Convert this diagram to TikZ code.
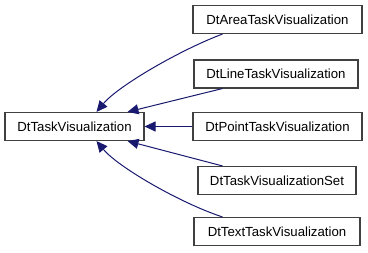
\documentclass[tikz,border=0pt]{standalone}
\usepackage{fontspec}
\setmainfont{Liberation Sans}
\usetikzlibrary{arrows.meta,positioning}
\definecolor{edgeblue}{RGB}{25,25,112}
\tikzset{every picture/.style={line width=0.75pt}}
\tikzset{
  cls/.style={draw=black!75, line width=1.1pt, fill=white, inner sep=0pt,
    minimum height=28pt, font=\fontsize{13.2}{15}\selectfont},
  inherit/.style={draw=edgeblue, line width=1pt,
    -{Triangle[length=11pt,width=10pt]}, fill=none}
}

\begin{document}
\begin{tikzpicture}[x=1pt,y=-1pt]
    \useasboundingbox (0,0) rectangle (368,253);

    % Basisklasse
    \node[cls, minimum width=139pt] (base) at (74.5,126.5) {DtTaskVisualization};

    % abgeleitete Klassen
    \node[cls, minimum width=169pt] (area)  at (277.5,19.5)  {DtAreaTaskVisualization};
    \node[cls, minimum width=164pt] (line)  at (276,74)      {DtLineTaskVisualization};
    \node[cls, minimum width=169pt] (point) at (277.5,126.5) {DtPointTaskVisualization};
    \node[cls, minimum width=158pt] (set)   at (277,180.5)   {DtTaskVisualizationSet};
    \node[cls, minimum width=166pt] (text)  at (277,231.5)   {DtTextTaskVisualization};

    % Vererbungspfeile
    \draw[inherit] ([xshift=30pt]area.south west) .. controls (180,50) and (118,86) .. ([xshift=22pt]base.north);
    \draw[inherit] ([xshift=29pt]line.south west) -- ([xshift=53pt]base.north);
    \draw[inherit] (point.west) -- (base.east);
    \draw[inherit] ([xshift=25pt]set.north west) -- ([xshift=53pt]base.south);
    \draw[inherit] ([xshift=29pt]text.north west) .. controls (180,203) and (118,167) .. ([xshift=22pt]base.south);
\end{tikzpicture}
\end{document}
